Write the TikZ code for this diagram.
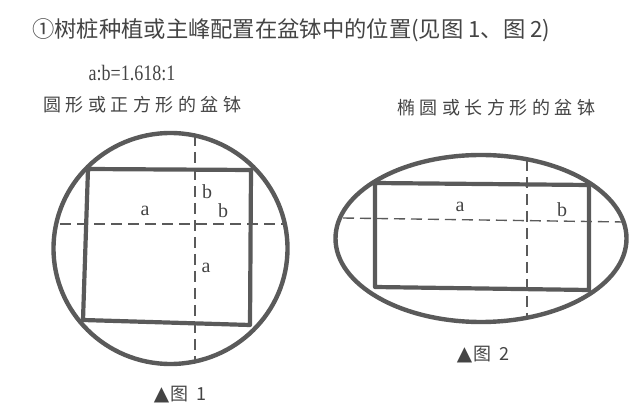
\documentclass[tikz,border=0pt]{standalone}
\usepackage{fontspec}
\setmainfont{Liberation Serif}
\newfontfamily\cjk{Noto Sans CJK SC}
\newfontfamily\symf{DejaVu Sans}
\definecolor{ink}{HTML}{444444}
\definecolor{linec}{HTML}{5A5A5A}
\tikzset{
  rim/.style={draw=linec, line width=4.4pt},
  frame/.style={draw=linec, line width=4.2pt, line join=round},
  axis/.style={draw=linec, line width=1.4pt, dash pattern=on 11pt off 6pt},
  lbl/.style={text=ink, font=\fontsize{20}{20}\selectfont, inner sep=0pt},
  cjktxt/.style={text=ink, inner sep=0pt},
}
\begin{document}
\begin{tikzpicture}[x=1pt,y=-1pt]
\useasboundingbox (0,0) rectangle (637,411);
% texts
\node[cjktxt, anchor=west, font=\cjk\fontsize{22.3}{23}\selectfont] (title) at (32,30) {①树桩种植或主峰配置在盆钵中的位置(见图 1、图 2)};
\node[lbl, font=\fontsize{22}{22}\selectfont] (ratio) at (132,73) {\scalebox{0.82}[1]{a:b=1.618:1}};
\node[cjktxt, anchor=west, font=\cjk\fontsize{18}{18}\selectfont] (sub1) at (43,105) {圆\hspace{4.5pt}形\hspace{4.5pt}或\hspace{4.5pt}正\hspace{4.5pt}方\hspace{4.5pt}形\hspace{4.5pt}的\hspace{4.5pt}盆\hspace{4.5pt}钵};
\node[cjktxt, anchor=west, font=\cjk\fontsize{18}{18}\selectfont] (sub2) at (397,108) {椭\hspace{4.5pt}圆\hspace{4.5pt}或\hspace{4.5pt}长\hspace{4.5pt}方\hspace{4.5pt}形\hspace{4.5pt}的\hspace{4.5pt}盆\hspace{4.5pt}钵};
% figure 1
\draw[rim] (170.5,248.5) ellipse [x radius=117, y radius=115.5];
\draw[frame] (88,169) -- (251,170) -- (250,325) -- (83,320) -- cycle;
\coordinate (h1a) at (60,224);
\coordinate (h1b) at (283,224);
\coordinate (v1a) at (195,135);
\coordinate (v1b) at (195,363);
\draw[axis] (h1a) -- (h1b);
\draw[axis] (v1a) -- (v1b);
\node[lbl] (a1) at (145,211) {a};
\node[lbl] (b1) at (223,211) {b};
\node[lbl] (b1v) at (207,192) {b};
\node[lbl] (a1v) at (206,268) {a};
\node[cjktxt, font=\cjk\fontsize{18}{18}\selectfont] (cap1) at (180,395) {{\symf\fontsize{20}{20}\selectfont ▲}\hspace{1pt}图\hspace{8pt}1};
% figure 2
\draw[rim] (481,238.5) ellipse [x radius=145.5, y radius=83.5];
\draw[frame] (375,183) -- (589,185) -- (589,290) -- (375,287) -- cycle;
\coordinate (h2a) at (343,218);
\coordinate (h2b) at (623,222);
\coordinate (v2a) at (527,160);
\coordinate (v2b) at (527,317);
\draw[axis] (h2a) -- (h2b);
\draw[axis] (v2a) -- (v2b);
\node[lbl] (a2) at (460,207) {a};
\node[lbl] (b2) at (562,210) {b};
\node[cjktxt, font=\cjk\fontsize{18}{18}\selectfont] (cap2) at (483,355) {{\symf\fontsize{20}{20}\selectfont ▲}\hspace{1pt}图\hspace{8pt}2};
\end{tikzpicture}
\end{document}
